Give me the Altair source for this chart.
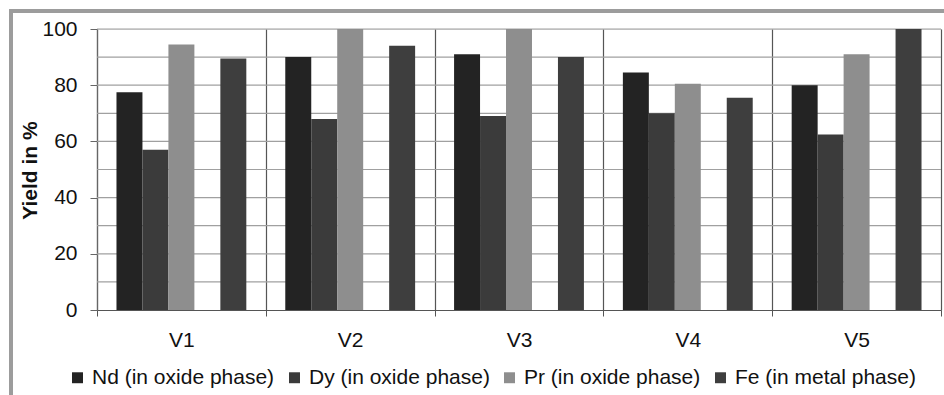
import altair as alt
import pandas as pd

groups = ["V1", "V2", "V3", "V4", "V5"]
series = ["Nd (in oxide phase)", "Dy (in oxide phase)", "Pr (in oxide phase)", "Fe (in metal phase)"]
slot_order = ["Nd (in oxide phase)", "Dy (in oxide phase)", "Pr (in oxide phase)", " ", "Fe (in metal phase)"]
nd = [77.5, 90, 91, 84.5, 80]
dy = [57, 68, 69, 70, 62.5]
pr = [94.5, 100, 100, 80.5, 91]
fe = [89.5, 94, 90, 75.5, 100]
colors = ["#232323", "#3b3b3b", "#8e8e8e", "#3e3e3e"]
y_ticks = [0, 20, 40, 60, 80, 100]
grid_values = [10, 20, 30, 40, 50, 60, 70, 80, 90, 100]

rows = []
for name, vals in zip(series, [nd, dy, pr, fe]):
    for g, v in zip(groups, vals):
        rows.append({"group": g, "series": name, "value": v})
df = pd.DataFrame(rows)
grid_df = pd.DataFrame({"g": grid_values})

FONT = "Liberation Sans"
FS = 21

grid = alt.Chart(grid_df).mark_rule(color="#a0a0a0", strokeWidth=1.2).encode(
    y=alt.Y("g:Q", scale=alt.Scale(domain=[0, 100], nice=False))
)

bars = alt.Chart(df).mark_bar(strokeWidth=0).encode(
    x=alt.X(
        "group:N",
        sort=groups,
        scale=alt.Scale(paddingInner=0, paddingOuter=0),
        axis=alt.Axis(
            title=None,
            labelAngle=0,
            labelFontSize=FS,
            labelFont=FONT,
            labelColor="#111111",
            labelPadding=13,
            tickBand="extent",
            grid=True,
            gridColor="#555555",
            gridWidth=1.2,
            tickColor="#555555",
            tickSize=6,
            domainColor="#555555",
            domainWidth=1.2,
        ),
    ),
    xOffset=alt.XOffset(
        "series:N",
        scale=alt.Scale(domain=slot_order, paddingInner=0, paddingOuter=0.75),
    ),
    y=alt.Y(
        "value:Q",
        scale=alt.Scale(domain=[0, 100], nice=False),
        axis=alt.Axis(
            title="Yield in %",
            titleFont=FONT,
            titleFontSize=FS,
            titleFontWeight="bold",
            titleColor="#111111",
            titleX=-67,
            titleY=141,
            titleAlign="center",
            titleBaseline="middle",
            values=y_ticks,
            grid=False,
            labelFontSize=FS,
            labelFont=FONT,
            labelColor="#111111",
            labelPadding=13,
            tickSize=7,
            tickColor="#666666",
            domainColor="#666666",
            domainWidth=1.2,
        ),
    ),
    color=alt.Color(
        "series:N",
        scale=alt.Scale(domain=series, range=colors),
        legend=alt.Legend(
            title=None,
            orient="none",
            legendX=-30,
            legendY=338,
            direction="horizontal",
            columns=4,
            symbolType="square",
            symbolSize=120,
            symbolStrokeWidth=0,
            labelFontSize=FS,
            labelFont=FONT,
            labelColor="#111111",
            labelLimit=0,
            labelOffset=4,
            columnPadding=9,
        ),
    ),
)

frame_top = alt.Chart(grid_df).mark_rule(color="#9c9c9c", strokeWidth=3).encode(
    x=alt.value(-86), x2=alt.value(847), y=alt.value(-18)
)
frame_left = alt.Chart(grid_df).mark_rule(color="#9c9c9c", strokeWidth=3).encode(
    x=alt.value(-86), y=alt.value(-19.5), y2=alt.value(366)
)

chart = (
    alt.layer(grid, bars, frame_top, frame_left)
    .properties(
        width=844,
        height=281,
        autosize=alt.AutoSizeParams(type="none"),
        padding={"left": 97, "top": 29, "right": 3, "bottom": 85},
    )
    .configure_view(stroke=None)
    .configure(font=FONT, background="white")
)

chart.save("out.html", embed_options={"renderer": "svg", "actions": False})
